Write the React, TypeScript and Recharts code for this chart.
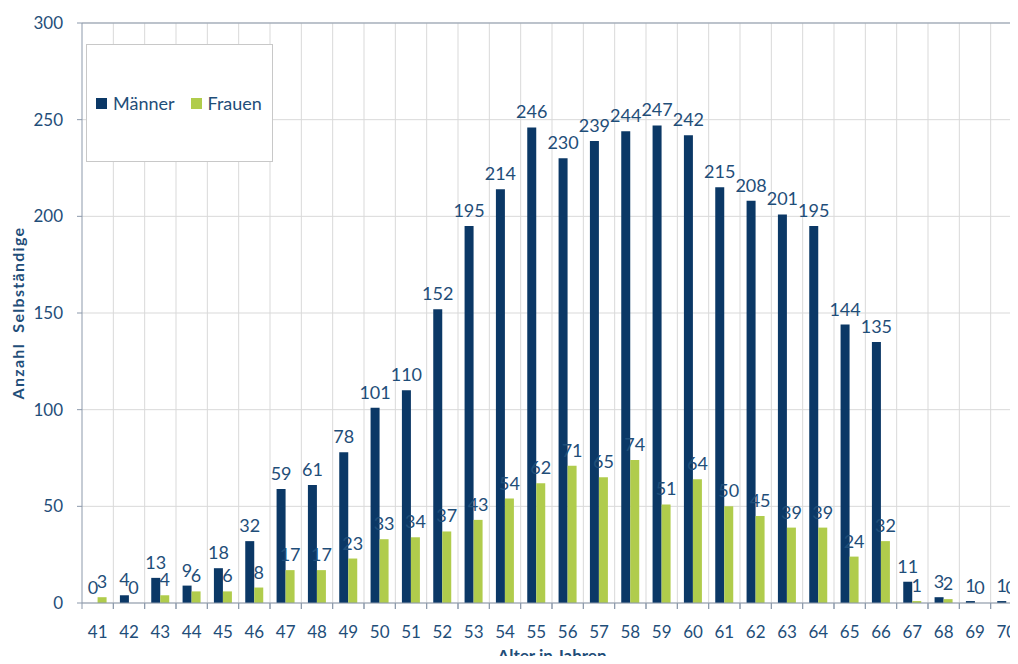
import React from "react";
import {
  BarChart,
  Bar,
  XAxis,
  YAxis,
  CartesianGrid,
  LabelList,
  ReferenceLine,
} from "recharts";

const ages = [41,42,43,44,45,46,47,48,49,50,51,52,53,54,55,56,57,58,59,60,61,62,63,64,65,66,67,68,69,70];
const maenner = [0,4,13,9,18,32,59,61,78,101,110,152,195,214,246,230,239,244,247,242,215,208,201,195,144,135,11,3,1,1];
const frauen = [3,0,4,6,6,8,17,17,23,33,34,37,43,54,62,71,65,74,51,64,50,45,39,39,24,32,1,2,0,0];
const yTicks = [0,50,100,150,200,250,300];
const seriesNames = ["Männer", "Frauen"];

const data = ages.map((a, i) => ({ age: String(a), m: maenner[i], f: frauen[i] }));

const FONT = "Lato, 'Noto Sans', sans-serif";
const TEXT = "#1f4e79";
const NAVY = "#0b3866";
const GREEN = "#b0cc4c";
const GRID = "#d9d9d9";
const AXIS = "#8c99ab";

const W = 1030;
const H = 664;
const M = { top: 23, right: 8, left: 0, bottom: 0 };
const YW = 82;
const XH = 61;
const plotW = W - M.left - M.right - YW;
const bw = plotW / ages.length;

const XTick = (props: any) => {
  const { x, y, payload } = props;
  const left = x - bw / 2;
  const right = x + bw / 2;
  return (
    <g>
      <line x1={left} y1={y - 8} x2={left} y2={y - 2} stroke={AXIS} strokeWidth={1} />
      <line x1={right} y1={y - 8} x2={right} y2={y - 2} stroke={AXIS} strokeWidth={1} />
      <text x={x} y={y + 27} textAnchor="middle" fill={TEXT} fontSize={17} fontFamily={FONT}>
        {payload.value}
      </text>
    </g>
  );
};

const XTitle = (props: any) => {
  const vb = props.viewBox || {};
  const cx = vb.x + vb.width / 2;
  return (
    <text x={cx} y={vb.y + 59} textAnchor="middle" fill={TEXT} fontSize={17} fontWeight={700} fontFamily={FONT}>
      Alter in Jahren
    </text>
  );
};

const YTitle = (props: any) => {
  const vb = props.viewBox || {};
  const cy = vb.y + vb.height / 2;
  const x = 24;
  return (
    <text
      x={x}
      y={cy}
      transform={`rotate(-90, ${x}, ${cy})`}
      textAnchor="middle"
      fill={TEXT}
      fontSize={16}
      fontWeight={700}
      fontFamily={FONT}
      letterSpacing={1.3}
      style={{ whiteSpace: "pre" }}
      xmlSpace="preserve"
    >
      Anzahl  Selbständige
    </text>
  );
};

const LegendBox = () => (
  <div
    style={{
      position: "absolute",
      left: 86,
      top: 44,
      width: 187,
      height: 118,
      border: "1px solid #c8c8c8",
      background: "#fff",
      display: "flex",
      alignItems: "center",
      boxSizing: "border-box",
      paddingLeft: 9,
      fontFamily: FONT,
      fontSize: 18,
      color: TEXT,
      zIndex: 2,
    }}
  >
    <span style={{ display: "inline-block", width: 11, height: 11, background: NAVY, marginRight: 6 }} />
    <span style={{ marginRight: 16 }}>{seriesNames[0]}</span>
    <span style={{ display: "inline-block", width: 11, height: 11, background: GREEN, marginRight: 6 }} />
    <span>{seriesNames[1]}</span>
  </div>
);

export default function App() {
  return (
    <div style={{ margin: -8, width: 1018, height: 664, overflow: "hidden", background: "#fff", position: "relative" }}>
      <BarChart
        width={W}
        height={H}
        data={data}
        margin={M}
        barGap={0}
        barCategoryGap="21%"
      >
        <CartesianGrid
          stroke={GRID}
          vertical={true}
          horizontal={true}
          verticalCoordinatesGenerator={({ offset }: any) =>
            ages.map((_, i) => offset.left + bw * (i + 1))
          }
        />
        <ReferenceLine y={300} stroke={AXIS} strokeWidth={1} />
        <XAxis
          dataKey="age"
          height={XH}
          interval={0}
          stroke={AXIS}
          tickLine={false}
          tick={<XTick />}
          label={<XTitle />}
        />
        <YAxis
          width={YW}
          domain={[0, 300]}
          ticks={yTicks}
          interval={0}
          stroke={AXIS}
          tickSize={5}
          tickMargin={14}
          tick={{ fill: TEXT, fontSize: 17, fontFamily: FONT }}
          label={<YTitle />}
        />
        <Bar dataKey="m" name={seriesNames[0]} fill={NAVY} minPointSize={0.01} isAnimationActive={false}>
          <LabelList dataKey="m" position="top" offset={9} fill={TEXT} fontSize={18} fontFamily={FONT} />
        </Bar>
        <Bar dataKey="f" name={seriesNames[1]} fill={GREEN} minPointSize={0.01} isAnimationActive={false}>
          <LabelList dataKey="f" position="top" offset={9} fill={TEXT} fontSize={18} fontFamily={FONT} />
        </Bar>
      </BarChart>
      <LegendBox />
    </div>
  );
}
